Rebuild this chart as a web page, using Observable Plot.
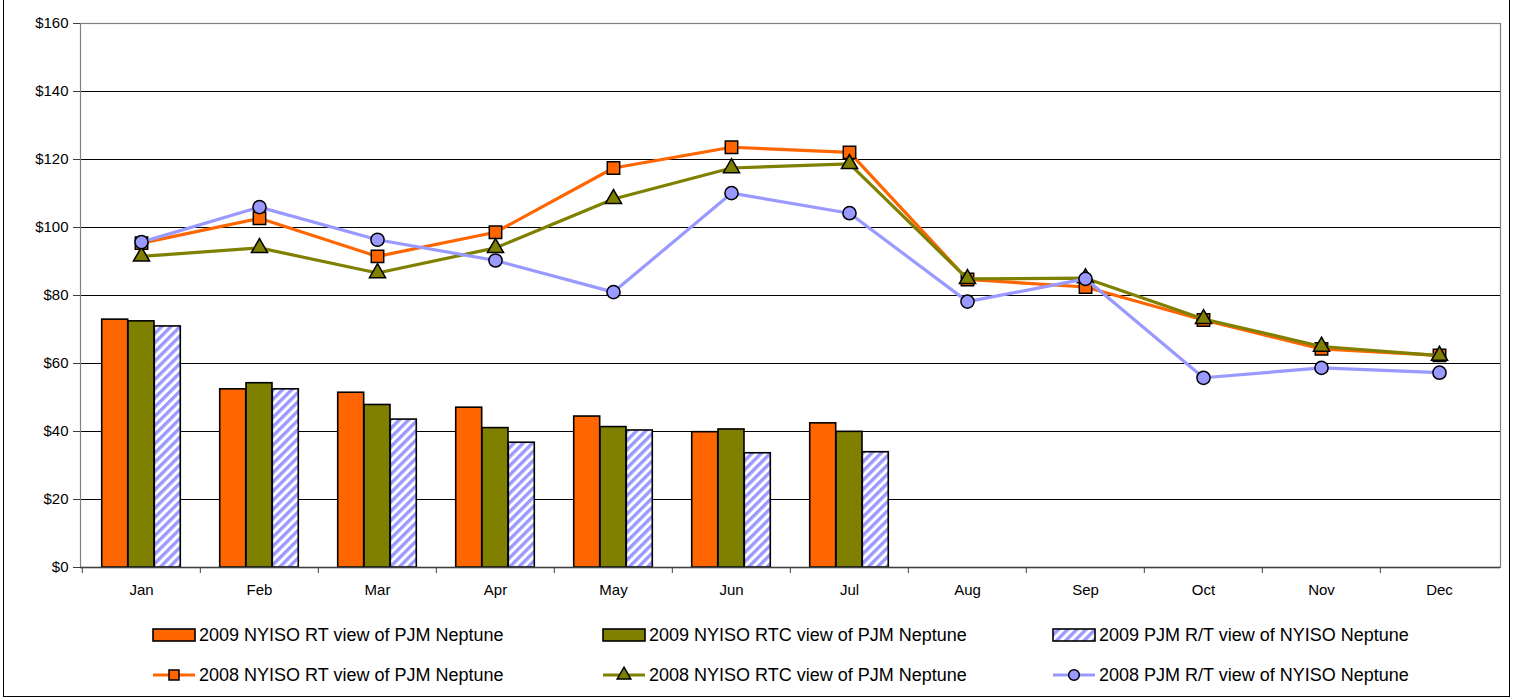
<!DOCTYPE html>
<html>
<head>
<meta charset="utf-8">
<script src="https://cdn.jsdelivr.net/npm/d3@7"></script>
<script src="https://cdn.jsdelivr.net/npm/@observablehq/plot@0.6"></script>
<style>
  html, body { margin: 0; padding: 0; background: #fff; }
  #wrap { position: relative; width: 1514px; height: 700px; overflow: hidden; font-family: "Liberation Sans", Arial, sans-serif; }
  #border { position: absolute; left: 3px; top: -10px; width: 1507px; height: 707px; border: 1px solid #000; box-sizing: border-box; pointer-events: none; }
  #chart svg, #legend svg { display: block; }
</style>
</head>
<body>
<div id="wrap">
  <div id="chart"></div>
  <div id="legend"></div>
  <div id="border"></div>
</div>
<script>
// ---------- data ----------
const months = ["Jan","Feb","Mar","Apr","May","Jun","Jul","Aug","Sep","Oct","Nov","Dec"];
const yTicks = [0, 20, 40, 60, 80, 100, 120, 140, 160];

const seriesNames = [
  "2009 NYISO RT view of PJM Neptune",
  "2009 NYISO RTC view of PJM Neptune",
  "2009 PJM R/T view of NYISO Neptune",
  "2008 NYISO RT view of PJM Neptune",
  "2008 NYISO RTC view of PJM Neptune",
  "2008 PJM R/T view of NYISO Neptune"
];

// 2009 bars (Jan-Jul)
const rt2009  = [72.9, 52.4, 51.4, 47.0, 44.4, 39.8, 42.4];
const rtc2009 = [72.4, 54.2, 47.8, 41.0, 41.3, 40.6, 39.9];
const pjm2009 = [70.9, 52.4, 43.5, 36.7, 40.3, 33.6, 33.9];

// 2008 lines (Jan-Dec)
const rt2008  = [95.4, 102.7, 91.5, 98.6, 117.5, 123.6, 122.1, 84.7, 82.5, 72.8, 64.3, 62.4];
const rtc2008 = [91.5, 94.0, 86.6, 94.0, 108.4, 117.5, 118.7, 84.9, 85.1, 73.1, 65.0, 62.3];
const pjm2008 = [95.7, 106.0, 96.4, 90.3, 81.0, 110.1, 104.2, 78.2, 84.9, 55.8, 58.7, 57.3];

// ---------- styles ----------
const ORANGE = "#FF6600", OLIVE = "#808000", LAV = "#9999FF";
const W = 1514, H = 610, mL = 80, mR = 14, mT = 23, mB = 43;
const bw = (W - mL - mR) / months.length;
const barW = 26.3;
const inset = (bw - barW) / 2;

const toRows = (vals) => vals.map((v, i) => ({month: months[i], value: v}));

const barSpecs = [
  {vals: rt2009,  fill: ORANGE, dx: -barW},
  {vals: rtc2009, fill: OLIVE,  dx: 0},
  {vals: pjm2009, fill: "url(#hatch)", dx: barW}
];
const lineSpecs = [
  {vals: rt2008,  color: ORANGE, symbol: "square",   r: 7.0},
  {vals: rtc2008, color: OLIVE,  symbol: "triangle", r: 6.0},
  {vals: pjm2008, color: LAV,    symbol: "circle",   r: 6.6}
];

const marks = [];
marks.push(Plot.ruleY(yTicks.filter(t => t > 0 && t < 160), {stroke: "#000", strokeWidth: 1}));
for (const b of barSpecs) {
  marks.push(Plot.barY(toRows(b.vals), {
    x: "month", y: "value", fill: b.fill, stroke: "#000", strokeWidth: 1.6,
    insetLeft: inset, insetRight: inset, dx: b.dx
  }));
}
marks.push(Plot.frame({stroke: "#808080", strokeWidth: 1.2}));
marks.push(Plot.ruleY([0], {stroke: "#404040", strokeWidth: 1.5}));
for (const l of lineSpecs) {
  const rows = toRows(l.vals);
  marks.push(Plot.line(rows, {x: "month", y: "value", stroke: l.color, strokeWidth: 3.2}));
  marks.push(Plot.dot(rows, {x: "month", y: "value", symbol: l.symbol, r: l.r, fill: l.color, stroke: "#000", strokeWidth: 1.5}));
}
marks.push(Plot.axisY({ticks: yTicks, tickFormat: d => "$" + d, tickSize: 7, tickPadding: 5, stroke: "#404040", label: null}));
marks.push(Plot.axisX({tickSize: 0, tickPadding: 17, label: null}));
marks.push(Plot.axisX({tickSize: 6, tickFormat: () => "", dx: -bw / 2, stroke: "#404040", label: null}));

const chart = Plot.plot({
  width: W, height: H,
  marginLeft: mL, marginRight: mR, marginTop: mT, marginBottom: mB,
  style: {fontFamily: "'Liberation Sans', Arial, sans-serif", fontSize: "15px", color: "#000", background: "transparent"},
  x: {type: "band", domain: months, padding: 0, axis: null, label: null},
  y: {domain: [0, 160], axis: null, label: null},
  marks
});

// hatch pattern
function addHatch(svgSel, id) {
  const defs = svgSel.insert("defs", ":first-child");
  const p = defs.append("pattern").attr("id", id).attr("patternUnits", "userSpaceOnUse")
    .attr("width", 6.5).attr("height", 6.5).attr("patternTransform", "rotate(45)");
  p.append("rect").attr("width", 6.5).attr("height", 6.5).attr("fill", "#fff");
  p.append("rect").attr("width", 3.4).attr("height", 6.5).attr("fill", LAV);
}
addHatch(d3.select(chart), "hatch");
document.getElementById("chart").appendChild(chart);

// ---------- legend ----------
const lg = d3.select("#legend").append("svg").attr("width", W).attr("height", 90)
  .style("font-family", "'Liberation Sans', Arial, sans-serif");
addHatch(lg, "hatchL");
const colX = [153, 603, 1053];
const rowY = [25, 65];
const sym = {square: d3.symbolSquare, triangle: d3.symbolTriangle, circle: d3.symbolCircle};
seriesNames.forEach((name, i) => {
  const row = Math.floor(i / 3), col = i % 3;
  const x = colX[col], y = rowY[row];
  const g = lg.append("g");
  if (row === 0) {
    const fill = [ORANGE, OLIVE, "url(#hatchL)"][col];
    g.append("rect").attr("x", x).attr("y", y - 6).attr("width", 42).attr("height", 12)
      .attr("fill", fill).attr("stroke", "#000").attr("stroke-width", 1.6);
  } else {
    const l = lineSpecs[col];
    g.append("line").attr("x1", x).attr("x2", x + 42).attr("y1", y).attr("y2", y)
      .attr("stroke", l.color).attr("stroke-width", 3.2);
    const s = l.symbol === "square" ? 100 : l.symbol === "triangle" ? 80 : 90;
    g.append("path").attr("transform", `translate(${x + 21},${y})`)
      .attr("d", d3.symbol(sym[l.symbol], s)())
      .attr("fill", l.color).attr("stroke", "#000").attr("stroke-width", 1.5);
  }
  g.append("text").attr("x", x + 46).attr("y", y).attr("dy", "0.36em")
    .attr("font-size", 18).attr("fill", "#000").text(name);
});
</script>
</body>
</html>
